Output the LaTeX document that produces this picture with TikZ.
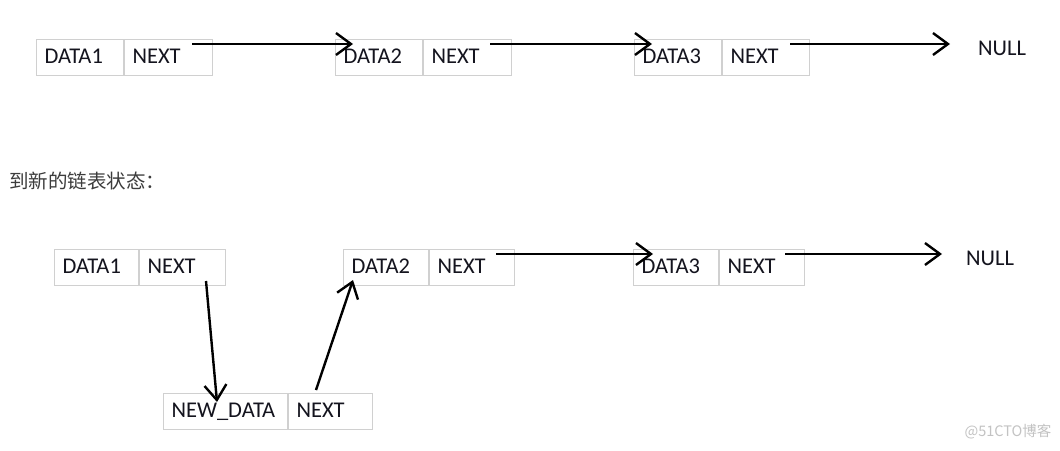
\documentclass[tikz,border=0pt]{standalone}
\usepackage{fontspec}
\setmainfont{Carlito}
\newfontfamily\cjk{Noto Sans CJK SC}
\usetikzlibrary{arrows.meta}
\definecolor{boxgray}{RGB}{208,208,208}
\definecolor{txt}{RGB}{20,20,30}
\definecolor{cnt}{RGB}{60,60,60}
\definecolor{wm}{RGB}{195,195,195}
\begin{document}
\begin{tikzpicture}[x=1pt,y=-1pt,
  cell/.style={draw=boxgray, line width=1pt, minimum height=36pt, inner xsep=8pt, inner ysep=0pt,
    anchor=north west, align=left, text width=#1, text height=14pt, text depth=3pt,
    font=\fontsize{22.5}{24}\selectfont, text=txt},
  arr/.style={line width=2.4pt, -{Straight Barb[length=15pt,width=22pt,line width=2.4pt]}},
  lbl/.style={font=\fontsize{22.5}{24}\selectfont, text=txt}
]
\useasboundingbox (0,0) rectangle (1060,450);
\fill[white] (0,0) rectangle (1060,450);

% top row
\node[cell=71pt] (d1) at (36,39) {DATA1};
\node[cell=72pt] (n1) at (d1.north east) {NEXT};
\node[cell=71pt] (d2) at (335,39) {DATA2};
\node[cell=72pt] (n2) at (d2.north east) {NEXT};
\node[cell=71pt] (d3) at (634,39) {DATA3};
\node[cell=71pt] (n3) at (d3.north east) {NEXT};
\node[lbl] (null1) at (1002,48) {NULL};

\coordinate (s1) at (192,44); \coordinate (e1) at (353,44);
\coordinate (s2) at (490,44); \coordinate (e2) at (652,44);
\coordinate (s3) at (790,44); \coordinate (e3) at (950,44);
\draw[arr] (s1) -- (e1);
\draw[arr] (s2) -- (e2);
\draw[arr] (s3) -- (e3);

% caption
\node[anchor=west, inner sep=0pt, text=cnt, font=\cjk\fontsize{19.5}{21}\selectfont] (cap) at (9,181) {到新的链表状态：};

% bottom row
\node[cell=68pt] (bd1) at (54,249) {DATA1};
\node[cell=70pt] (bn1) at (bd1.north east) {NEXT};
\node[cell=69pt] (bd2) at (343,249) {DATA2};
\node[cell=69pt] (bn2) at (bd2.north east) {NEXT};
\node[cell=108pt] (nd) at (163,393) {NEW\_DATA};
\node[cell=68pt] (nn) at (nd.north east) {NEXT};
\node[cell=69pt] (bd3) at (633,249) {DATA3};
\node[cell=69pt] (bn3) at (bd3.north east) {NEXT};
\node[lbl] (null2) at (990,258) {NULL};

\coordinate (t1) at (206,281); \coordinate (u1) at (217,402);
\coordinate (t2) at (316,390); \coordinate (u2) at (353,280);
\coordinate (t3) at (496,254); \coordinate (u3) at (653,254);
\coordinate (t4) at (785,254); \coordinate (u4) at (942,254);
\draw[arr] (t1) -- (u1);
\draw[arr] (t2) -- (u2);
\draw[arr] (t3) -- (u3);
\draw[arr] (t4) -- (u4);

% watermark
\node[text=wm, font=\cjk\fontsize{14.5}{16}\selectfont] (wmk) at (1008,432) {@51CTO博客};
\end{tikzpicture}
\end{document}
